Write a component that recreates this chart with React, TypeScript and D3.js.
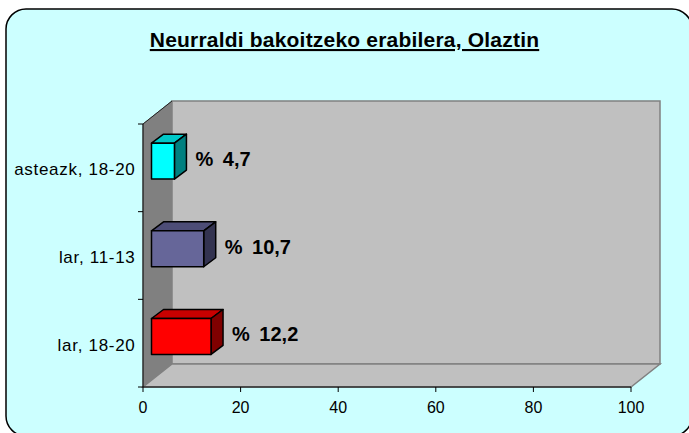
import React, { useEffect, useRef } from 'react';
import * as d3 from 'd3';

// categories top to bottom, as shown
const categories = ['asteazk, 18-20', 'lar, 11-13', 'lar, 18-20'];
const values = [4.7, 10.7, 12.2];
const xTicks = [0, 20, 40, 60, 80, 100];
const title = 'Neurraldi bakoitzeko erabilera, Olaztin';

const barColors = [
  { front: '#00FFFF', top: '#00C8C8', side: '#008080' },
  { front: '#666699', top: '#4D4D77', side: '#333350' },
  { front: '#FF0000', top: '#C80000', side: '#800000' },
];

const FONT = '"Liberation Sans", Arial, sans-serif';

const App = () => {
  const ref = useRef<SVGSVGElement>(null);

  useEffect(() => {
    const width = 689;
    const height = 433;
    const front = { left: 143, right: 631, top: 124, bottom: 387 };
    const depth = { dx: 29, dy: -23 };
    const barDepth = { dx: 12, dy: -9 };
    const shift = { dx: 8.5, dy: -6.7 }; // bars sit a bit behind the front plane

    const svg = d3.select(ref.current);
    svg.selectAll('*').remove();
    svg.attr('width', width).attr('height', height);

    svg.append('rect').attr('width', width).attr('height', height).attr('fill', '#ffffff');
    svg
      .append('rect')
      .attr('x', 6)
      .attr('y', 9)
      .attr('width', 686)
      .attr('height', 427)
      .attr('rx', 20)
      .attr('fill', '#CCFFFF')
      .attr('stroke', '#000')
      .attr('stroke-width', 1.5);

    // title
    svg
      .append('text')
      .attr('x', 344.5)
      .attr('y', 47)
      .attr('text-anchor', 'middle')
      .attr('font-family', FONT)
      .attr('font-size', 21)
      .attr('font-weight', 'bold')
      .attr('text-decoration', 'underline')
      .attr('letter-spacing', 0.2)
      .attr('fill', '#000')
      .text(title);

    const x = d3.scaleLinear().domain([0, 100]).range([front.left, front.right]);
    const y = d3
      .scaleBand<string>()
      .domain(categories)
      .range([front.top, front.bottom])
      .paddingInner(0.59)
      .paddingOuter(0.295);

    const L = front.left, R = front.right, T = front.top, B = front.bottom;
    const pts = (a: number[][]) => a.map(p => p.join(',')).join(' ');

    // side wall
    svg
      .append('polygon')
      .attr('points', pts([[L, T], [L + depth.dx, T + depth.dy], [L + depth.dx, B + depth.dy], [L, B]]))
      .attr('fill', '#808080')
      .attr('stroke', '#808080');
    // back wall
    svg
      .append('rect')
      .attr('x', L + depth.dx)
      .attr('y', T + depth.dy)
      .attr('width', R - L)
      .attr('height', B - T)
      .attr('fill', '#C0C0C0')
      .attr('stroke', '#808080')
      .attr('stroke-width', 1.5);
    // floor
    svg
      .append('polygon')
      .attr('points', pts([[L, B], [L + depth.dx, B + depth.dy], [R + depth.dx, B + depth.dy], [R, B]]))
      .attr('fill', '#C0C0C0')
      .attr('stroke', '#808080')
      .attr('stroke-width', 1.5);
    // side wall top edge
    svg
      .append('line')
      .attr('x1', L).attr('y1', T)
      .attr('x2', L + depth.dx).attr('y2', T + depth.dy)
      .attr('stroke', '#222')
      .attr('stroke-width', 1);

    // axes lines
    svg.append('line').attr('x1', L).attr('y1', T).attr('x2', L).attr('y2', B).attr('stroke', '#000');
    svg.append('line').attr('x1', L).attr('y1', B).attr('x2', R).attr('y2', B).attr('stroke', '#000');

    // category ticks at band boundaries
    const step = y.step();
    d3.range(categories.length + 1).forEach(i => {
      const ty = T + i * step;
      svg.append('line').attr('x1', L - 5).attr('x2', L).attr('y1', ty).attr('y2', ty).attr('stroke', '#000');
    });

    // category labels
    categories.forEach((c, i) => {
      const cy = T + (i + 0.5) * step;
      svg
        .append('text')
        .attr('x', 135.5)
        .attr('y', cy + 7.5)
        .attr('text-anchor', 'end')
        .attr('font-family', FONT)
        .attr('font-size', 17)
        .attr('letter-spacing', 0.7)
        .attr('fill', '#000')
        .text(c);
    });

    // x ticks and labels
    xTicks.forEach(t => {
      svg.append('line').attr('x1', x(t)).attr('x2', x(t)).attr('y1', B).attr('y2', B + 5).attr('stroke', '#000');
      svg
        .append('text')
        .attr('x', x(t))
        .attr('y', 413)
        .attr('text-anchor', 'middle')
        .attr('font-family', FONT)
        .attr('font-size', 16)
        .attr('fill', '#000')
        .text(t);
    });

    // bars
    categories.forEach((c, i) => {
      const v = values[i];
      const col = barColors[i];
      const x0 = x(0) + shift.dx;
      const x1 = x(v) + shift.dx;
      const y0 = (y(c) as number) + shift.dy;
      const y1 = y0 + y.bandwidth();
      const g = svg.append('g').attr('stroke', '#000').attr('stroke-width', 1.5).attr('stroke-linejoin', 'round');
      g.append('polygon')
        .attr('points', pts([[x0, y0], [x0 + barDepth.dx, y0 + barDepth.dy], [x1 + barDepth.dx, y0 + barDepth.dy], [x1, y0]]))
        .attr('fill', col.top);
      g.append('polygon')
        .attr('points', pts([[x1, y0], [x1 + barDepth.dx, y0 + barDepth.dy], [x1 + barDepth.dx, y1 + barDepth.dy], [x1, y1]]))
        .attr('fill', col.side);
      g.append('rect')
        .attr('x', x0)
        .attr('y', y0)
        .attr('width', x1 - x0)
        .attr('height', y1 - y0)
        .attr('fill', col.front);

      svg
        .append('text')
        .attr('x', x1 + 21)
        .attr('y', (y0 + y1) / 2 + 5)
        .attr('font-family', FONT)
        .attr('font-size', 20)
        .attr('font-weight', 'bold')
        .attr('word-spacing', 4)
        .attr('fill', '#000')
        .text('% ' + String(v).replace('.', ','));
    });
  }, []);

  return (
    <svg ref={ref} style={{ position: 'absolute', left: 0, top: 0, display: 'block' }} />
  );
};

export default App;
